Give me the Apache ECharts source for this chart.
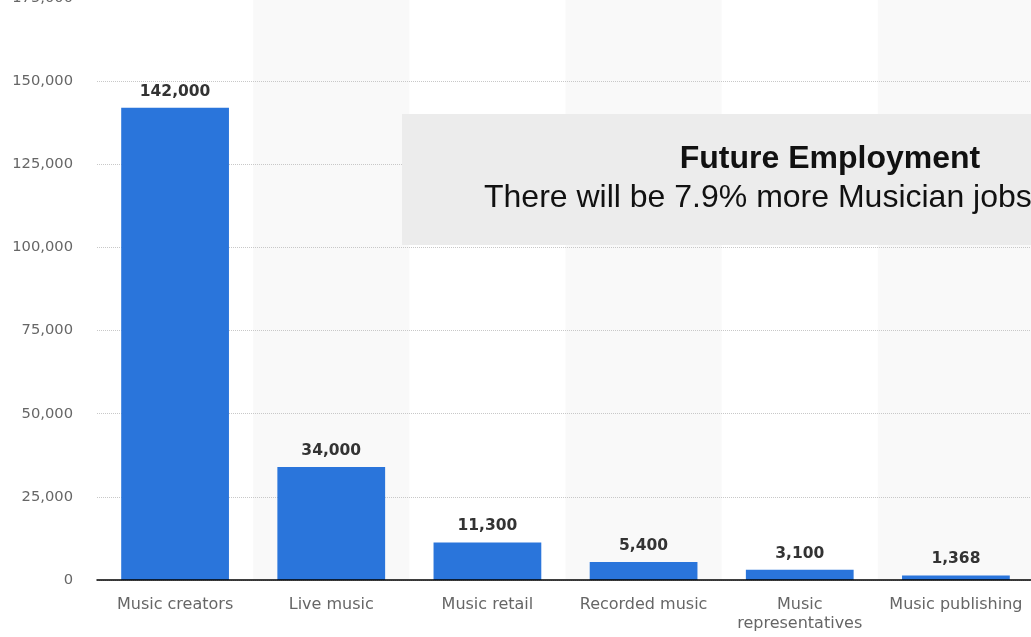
<!DOCTYPE html>
<html>
<head>
<meta charset="utf-8">
<script src="https://cdn.jsdelivr.net/npm/echarts@6/dist/echarts.min.js"></script>
<style>html,body{margin:0;padding:0;background:#fff}#c{width:1031px;height:637px}</style>
</head>
<body>
<div id="c"></div>
<script>
const categories = ['Music creators', 'Live music', 'Music retail', 'Recorded music', 'Music representatives', 'Music publishing'];
const employees = [142000, 34000, 11300, 5400, 3100, 1368];
const yTicks = { min: 0, max: 175000, interval: 25000 };
const noteTitle = 'Future Employment';
const noteText = 'There will be 7.9% more Musician jobs';

const chart = echarts.init(document.getElementById('c'));
chart.setOption({
  animation: false,
  backgroundColor: '#ffffff',
  grid: { left: 97, right: -3, top: -2, bottom: 57, containLabel: false, outerBoundsMode: 'none' },
  xAxis: [{
    type: 'category',
    data: categories,
    z: 0,
    axisLine: { show: false },
    axisTick: { show: false },
    axisLabel: {
      color: '#666', fontSize: 16, fontFamily: 'DejaVu Sans', margin: 15, interval: 0, lineHeight: 19,
      formatter: v => v.length > 18 ? v.replace(' ', '\n') : v
    },
    splitArea: { show: true, areaStyle: { color: ['rgba(255,255,255,0)', '#f9f9f9'] } }
  }, {
    type: 'category',
    data: categories,
    position: 'bottom',
    z: 5,
    axisLine: { show: true, lineStyle: { color: '#000', width: 1.5 } },
    axisTick: { show: false },
    axisLabel: { show: false },
    splitLine: { show: false },
    splitArea: { show: false }
  }],
  yAxis: {
    type: 'value',
    z: 1,
    min: yTicks.min, max: yTicks.max, interval: yTicks.interval,
    axisLine: { show: false },
    axisTick: { show: false },
    axisLabel: { color: '#666', fontSize: 14.7, fontFamily: 'DejaVu Sans', margin: 24,
      formatter: v => v.toLocaleString('en-US') },
    splitLine: { lineStyle: { color: '#c8c8c8', type: [1, 1], width: 1 } }
  },
  series: [{
    type: 'bar',
    z: 3,
    xAxisIndex: 0,
    data: employees,
    barWidth: '69%',
    itemStyle: { color: '#2a75db' },
    label: {
      show: true, position: 'top', distance: 8,
      color: '#333', fontSize: 15.5, fontWeight: 'bold', fontFamily: 'DejaVu Sans',
      formatter: p => p.value.toLocaleString('en-US')
    }
  }],
  graphic: [
    { type: 'rect', left: 402, top: 114, shape: { width: 640, height: 131 }, style: { fill: '#ececec' }, z: 100 },
    { type: 'text', x: 830, y: 159, style: { text: noteTitle, fill: '#111', font: 'bold 32px "Liberation Sans", Arial', textAlign: 'center', textVerticalAlign: 'middle' }, z: 101 },
    { type: 'text', x: 484, y: 198, style: { text: noteText, fill: '#111', font: '32px "Liberation Sans", Arial', textAlign: 'left', textVerticalAlign: 'middle' }, z: 101 }
  ]
});
</script>
</body>
</html>
